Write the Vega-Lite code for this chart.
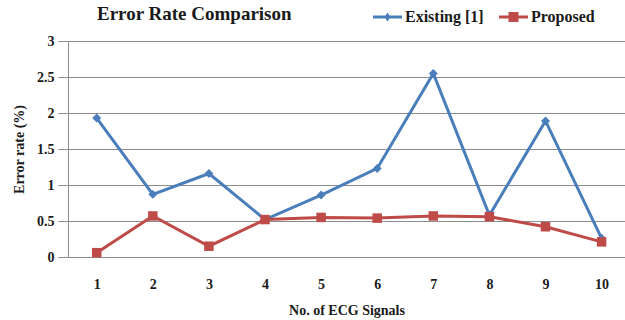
{
  "$schema": "https://vega.github.io/schema/vega-lite/v6.json",
  "autosize": "none",
  "width": 557,
  "height": 216,
  "padding": {"left": 68, "top": 41, "right": 0, "bottom": 63},
  "background": "white",
  "title": {
    "text": "Error Rate Comparison",
    "anchor": "start",
    "frame": "group",
    "dx": 29,
    "offset": 0,
    "dy": 15,
    "font": "Liberation Serif, Times New Roman, serif",
    "fontSize": 19,
    "fontWeight": "bold",
    "color": "#1a1a1a"
  },
  "data": {
    "values": [
      {"signal": 1, "method": "Existing [1]", "rate": 1.93},
      {"signal": 2, "method": "Existing [1]", "rate": 0.87},
      {"signal": 3, "method": "Existing [1]", "rate": 1.16},
      {"signal": 4, "method": "Existing [1]", "rate": 0.52},
      {"signal": 5, "method": "Existing [1]", "rate": 0.86},
      {"signal": 6, "method": "Existing [1]", "rate": 1.23},
      {"signal": 7, "method": "Existing [1]", "rate": 2.55},
      {"signal": 8, "method": "Existing [1]", "rate": 0.58},
      {"signal": 9, "method": "Existing [1]", "rate": 1.89},
      {"signal": 10, "method": "Existing [1]", "rate": 0.26},
      {"signal": 1, "method": "Proposed", "rate": 0.06},
      {"signal": 2, "method": "Proposed", "rate": 0.57},
      {"signal": 3, "method": "Proposed", "rate": 0.15},
      {"signal": 4, "method": "Proposed", "rate": 0.52},
      {"signal": 5, "method": "Proposed", "rate": 0.55},
      {"signal": 6, "method": "Proposed", "rate": 0.54},
      {"signal": 7, "method": "Proposed", "rate": 0.57},
      {"signal": 8, "method": "Proposed", "rate": 0.56},
      {"signal": 9, "method": "Proposed", "rate": 0.42},
      {"signal": 10, "method": "Proposed", "rate": 0.21}
    ]
  },
  "encoding": {
    "x": {
      "field": "signal",
      "type": "quantitative",
      "scale": {"domain": [0.488, 10.417], "nice": false, "zero": false},
      "axis": {
        "title": "No. of ECG Signals",
        "values": [1, 2, 3, 4, 5, 6, 7, 8, 9, 10],
        "grid": false,
        "ticks": false,
        "labelPadding": 20,
        "titlePadding": 12
      }
    },
    "y": {
      "field": "rate",
      "type": "quantitative",
      "scale": {"domain": [0, 3], "nice": false},
      "axis": {
        "title": "Error rate (%)",
        "values": [0, 0.5, 1, 1.5, 2, 2.5, 3],
        "format": "~g",
        "grid": true,
        "ticks": true,
        "tickSize": 10,
        "labelPadding": 4,
        "titlePadding": 10
      }
    }
  },
  "layer": [
    {
      "mark": {"type": "line", "strokeWidth": 3},
      "encoding": {
        "color": {
          "field": "method",
          "type": "nominal",
          "scale": {"domain": ["Existing [1]", "Proposed"], "range": ["#4A7EBB", "#BE4B48"]},
          "legend": {
            "orient": "none",
            "legendX": 302,
            "legendY": -32,
            "direction": "horizontal",
            "title": null,
            "labelFont": "Liberation Serif, Times New Roman, serif",
            "labelFontSize": 16,
            "labelFontWeight": "bold",
            "labelColor": "#1a1a1a",
            "labelOffset": 19,
            "columnPadding": 12,
            "encode": {
              "symbols": {
                "update": {
                  "shape": {"signal": "datum.value === 'Existing [1]' ? 'M-1,-0.3L1.5,-0.3L1.9,-0.9L2.3,-0.3L4.8,-0.3L4.8,0.3L2.3,0.3L1.9,0.9L1.5,0.3L-1,0.3Z' : 'M-1,-0.3L0.9,-0.3L0.9,-1L2.9,-1L2.9,-0.3L4.8,-0.3L4.8,0.3L2.9,0.3L2.9,1L0.9,1L0.9,0.3L-1,0.3Z'"},
                  "fill": {"scale": "color", "field": "value"},
                  "strokeWidth": {"value": 0},
                  "opacity": {"value": 1},
                  "fillOpacity": {"value": 1}
                }
              }
            }
          }
        }
      }
    },
    {
      "mark": {"type": "point", "filled": true, "opacity": 1, "strokeWidth": 0},
      "encoding": {
        "fill": {
          "field": "method",
          "type": "nominal",
          "scale": {"domain": ["Existing [1]", "Proposed"], "range": ["#4A7EBB", "#BE4B48"]},
          "legend": null
        },
        "shape": {
          "condition": {"test": "datum.method === 'Existing [1]'", "value": "diamond"},
          "value": "square"
        },
        "size": {
          "condition": {"test": "datum.method === 'Existing [1]'", "value": 80},
          "value": 90
        }
      }
    }
  ],
  "config": {
    "view": {"stroke": null},
    "font": "Liberation Serif, Times New Roman, serif",
    "axis": {
      "labelFont": "Liberation Serif, Times New Roman, serif",
      "labelFontSize": 14,
      "labelFontWeight": "bold",
      "labelColor": "#1a1a1a",
      "titleFont": "Liberation Serif, Times New Roman, serif",
      "titleFontSize": 14,
      "titleFontWeight": "bold",
      "titleColor": "#1a1a1a",
      "domainColor": "#8c8c8c",
      "tickColor": "#8c8c8c",
      "gridColor": "#8c8c8c",
      "gridOpacity": 1,
      "domainWidth": 1,
      "gridWidth": 1
    }
  }
}
